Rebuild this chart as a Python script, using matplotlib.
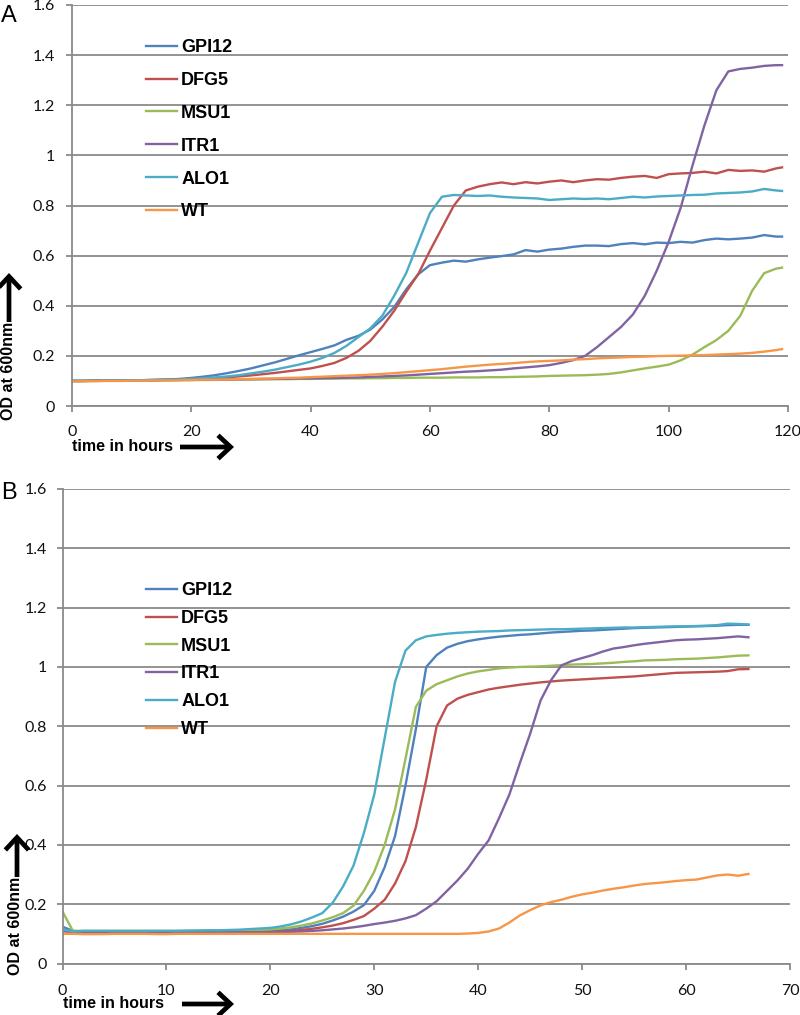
import matplotlib
matplotlib.use("Agg")
import matplotlib.pyplot as plt
from matplotlib.patches import FancyArrowPatch

# ---------------- data ----------------
series_names = ["GPI12", "DFG5", "MSU1", "ITR1", "ALO1", "WT"]
series_colors = ["#4F81BD", "#C0504D", "#9BBB59", "#8064A2", "#4BACC6", "#F79646"]

# Panel A (time in hours)
time_A = list(range(0, 120, 2)) + [119]
GPI12_A = [0.100,0.100,0.101,0.101,0.102,0.102,0.103,0.104,0.105,0.108,
           0.112,0.117,0.123,0.131,0.140,0.150,0.162,0.174,0.188,0.202,
           0.215,0.228,0.242,0.264,0.280,0.305,0.345,0.395,0.465,0.525,
           0.562,0.572,0.580,0.576,0.585,0.592,0.598,0.605,0.622,0.616,
           0.624,0.628,0.635,0.640,0.640,0.638,0.646,0.650,0.645,0.652,
           0.650,0.655,0.652,0.662,0.668,0.665,0.668,0.672,0.682,0.676,
           0.676]
DFG5_A = [0.100,0.100,0.101,0.101,0.102,0.102,0.103,0.104,0.105,0.106,
          0.108,0.110,0.112,0.115,0.118,0.122,0.127,0.132,0.138,0.144,
          0.150,0.160,0.172,0.192,0.220,0.260,0.316,0.380,0.455,0.525,
          0.620,0.710,0.800,0.860,0.875,0.885,0.892,0.885,0.893,0.888,
          0.895,0.900,0.893,0.900,0.905,0.903,0.910,0.915,0.918,0.910,
          0.925,0.928,0.930,0.935,0.928,0.942,0.938,0.940,0.935,0.948,
          0.952]
MSU1_A = [0.100,0.100,0.100,0.101,0.101,0.101,0.102,0.102,0.102,0.103,
          0.103,0.104,0.104,0.105,0.105,0.106,0.106,0.107,0.107,0.108,
          0.108,0.109,0.109,0.110,0.110,0.111,0.111,0.112,0.112,0.113,
          0.113,0.113,0.114,0.114,0.114,0.115,0.115,0.116,0.117,0.118,
          0.120,0.121,0.122,0.123,0.125,0.128,0.134,0.142,0.150,0.157,
          0.165,0.182,0.205,0.235,0.263,0.300,0.360,0.460,0.530,0.548,
          0.552]
ITR1_A = [0.100,0.100,0.101,0.101,0.102,0.102,0.103,0.103,0.104,0.104,
          0.105,0.105,0.106,0.106,0.107,0.107,0.108,0.108,0.109,0.110,
          0.110,0.111,0.112,0.113,0.114,0.116,0.118,0.120,0.122,0.125,
          0.128,0.131,0.134,0.137,0.139,0.142,0.145,0.150,0.154,0.158,
          0.163,0.172,0.183,0.200,0.235,0.275,0.315,0.365,0.440,0.540,
          0.655,0.790,0.960,1.120,1.260,1.335,1.345,1.350,1.357,1.360,
          1.360]
ALO1_A = [0.100,0.100,0.101,0.101,0.102,0.102,0.103,0.104,0.105,0.106,
          0.108,0.111,0.114,0.118,0.123,0.130,0.137,0.145,0.155,0.165,
          0.177,0.192,0.212,0.240,0.275,0.310,0.360,0.440,0.530,0.650,
          0.770,0.835,0.842,0.840,0.838,0.840,0.835,0.832,0.830,0.828,
          0.822,0.825,0.828,0.826,0.828,0.825,0.830,0.835,0.832,0.836,
          0.838,0.840,0.842,0.843,0.848,0.850,0.852,0.856,0.866,0.860,
          0.858]
WT_A = [0.098,0.099,0.099,0.100,0.100,0.101,0.101,0.102,0.102,0.103,
        0.104,0.105,0.105,0.106,0.107,0.108,0.109,0.110,0.112,0.113,
        0.115,0.117,0.119,0.121,0.123,0.125,0.128,0.131,0.135,0.139,
        0.143,0.147,0.152,0.157,0.161,0.165,0.168,0.171,0.175,0.178,
        0.180,0.182,0.185,0.187,0.190,0.192,0.194,0.196,0.197,0.199,
        0.200,0.201,0.202,0.203,0.205,0.207,0.209,0.212,0.217,0.223,
        0.227]

# Panel B (time in hours)
time_B = list(range(0, 67))
GPI12_B = [0.124,0.110,0.108,0.108,0.108,0.108,0.108,0.108,0.108,0.108,
           0.108,0.108,0.108,0.108,0.108,0.108,0.108,0.108,0.109,0.109,
           0.110,0.112,0.115,0.120,0.126,0.134,0.145,0.158,0.175,0.197,
           0.245,0.325,0.430,0.600,0.790,1.000,1.040,1.065,1.078,1.087,
           1.093,1.098,1.102,1.105,1.108,1.110,1.113,1.116,1.118,1.120,
           1.122,1.123,1.125,1.127,1.129,1.131,1.132,1.133,1.134,1.135,
           1.136,1.137,1.138,1.139,1.141,1.142,1.142]
DFG5_B = [0.110,0.105,0.105,0.105,0.105,0.105,0.105,0.105,0.105,0.105,
          0.105,0.105,0.105,0.105,0.105,0.105,0.105,0.105,0.105,0.106,
          0.107,0.108,0.110,0.113,0.117,0.122,0.128,0.136,0.147,0.160,
          0.185,0.215,0.270,0.345,0.460,0.620,0.800,0.870,0.893,0.906,
          0.915,0.924,0.930,0.935,0.940,0.944,0.948,0.951,0.954,0.956,
          0.958,0.960,0.962,0.964,0.966,0.968,0.971,0.974,0.977,0.980,
          0.981,0.982,0.983,0.984,0.986,0.992,0.993]
MSU1_B = [0.175,0.110,0.110,0.110,0.110,0.110,0.110,0.110,0.110,0.110,
          0.110,0.110,0.110,0.111,0.111,0.111,0.111,0.112,0.112,0.113,
          0.115,0.118,0.122,0.128,0.135,0.145,0.156,0.170,0.195,0.245,
          0.310,0.400,0.520,0.690,0.865,0.920,0.942,0.955,0.968,0.978,
          0.985,0.990,0.995,0.998,1.000,1.001,1.002,1.004,1.006,1.008,
          1.009,1.010,1.012,1.014,1.017,1.019,1.022,1.023,1.024,1.026,
          1.027,1.028,1.030,1.032,1.035,1.038,1.039]
ITR1_B = [0.110,0.105,0.105,0.105,0.105,0.105,0.105,0.105,0.105,0.105,
          0.105,0.105,0.105,0.105,0.105,0.105,0.105,0.105,0.105,0.105,
          0.105,0.106,0.107,0.108,0.110,0.112,0.115,0.118,0.122,0.127,
          0.133,0.138,0.144,0.152,0.163,0.185,0.210,0.245,0.280,0.320,
          0.370,0.415,0.490,0.570,0.675,0.775,0.887,0.955,1.005,1.020,
          1.030,1.040,1.052,1.062,1.067,1.073,1.078,1.082,1.086,1.090,
          1.092,1.093,1.095,1.097,1.100,1.103,1.100]
ALO1_B = [0.115,0.108,0.110,0.110,0.110,0.110,0.110,0.110,0.110,0.110,
          0.110,0.110,0.111,0.111,0.112,0.112,0.113,0.114,0.116,0.118,
          0.120,0.125,0.132,0.142,0.155,0.170,0.205,0.260,0.330,0.440,
          0.570,0.760,0.950,1.055,1.090,1.103,1.108,1.112,1.115,1.117,
          1.119,1.120,1.121,1.123,1.124,1.125,1.126,1.127,1.127,1.128,
          1.129,1.130,1.131,1.132,1.133,1.133,1.134,1.135,1.136,1.137,
          1.137,1.138,1.139,1.141,1.146,1.145,1.143]
WT_B = [0.100,0.100,0.099,0.099,0.099,0.100,0.100,0.100,0.100,0.099,
        0.099,0.100,0.100,0.100,0.100,0.100,0.100,0.100,0.100,0.100,
        0.100,0.100,0.100,0.100,0.100,0.100,0.100,0.100,0.100,0.100,
        0.100,0.100,0.100,0.100,0.100,0.100,0.100,0.100,0.100,0.101,
        0.103,0.108,0.118,0.138,0.162,0.180,0.196,0.207,0.215,0.225,
        0.233,0.239,0.246,0.252,0.257,0.263,0.268,0.271,0.274,0.278,
        0.281,0.283,0.290,0.297,0.300,0.296,0.302]

y_ticks = [0, 0.2, 0.4, 0.6, 0.8, 1.0, 1.2, 1.4, 1.6]
y_ticklabels = ["0", "0.2", "0.4", "0.6", "0.8", "1", "1.2", "1.4", "1.6"]
xticks_A = [0, 20, 40, 60, 80, 100, 120]
xticks_B = [0, 10, 20, 30, 40, 50, 60, 70]

# ---------------- drawing ----------------
W, H = 800, 1015
fig = plt.figure(figsize=(W / 100, H / 100), dpi=100)

GRID = "#8a8a8a"
TICKFONT = "Lato"
BOLD = "Liberation Sans"


def fx(px):
    return px / W


def fy(py):
    return 1 - py / H


def style_axes(ax, xmax, xticks, ytickpad, xtickpad):
    ax.set_xlim(0, xmax)
    ax.set_ylim(0, 1.6)
    ax.set_yticks(y_ticks)
    ax.set_yticklabels(y_ticklabels)
    ax.set_xticks(xticks)
    ax.set_xticklabels([str(v) for v in xticks])
    for s in ["top", "right"]:
        ax.spines[s].set_visible(False)
    for s in ["left", "bottom"]:
        ax.spines[s].set_color(GRID)
        ax.spines[s].set_linewidth(1.3)
    ax.yaxis.grid(True, color=GRID, linewidth=1.3)
    ax.set_axisbelow(True)
    ax.tick_params(axis="both", direction="out", length=4, width=1.3, color=GRID,
                   labelsize=11.5, labelcolor="#111111")
    ax.tick_params(axis="y", pad=ytickpad)
    ax.tick_params(axis="x", pad=xtickpad)
    for lab in ax.get_xticklabels() + ax.get_yticklabels():
        lab.set_family(TICKFONT)


legend_prop = {"family": BOLD, "weight": "bold", "size": 13}

# Panel A
axA = fig.add_axes([fx(72), fy(406), fx(788 - 72), (406 - 5) / H])
dataA = [GPI12_A, DFG5_A, MSU1_A, ITR1_A, ALO1_A, WT_A]
for name, col, vals in zip(series_names, series_colors, dataA):
    axA.plot(time_A, vals, color=col, lw=1.7, label=name)
style_axes(axA, 120, xticks_A, 8, 10)
axA.legend(loc="upper left", bbox_to_anchor=(fx(146), fy(39)),
           bbox_transform=fig.transFigure, frameon=False, prop=legend_prop,
           handlelength=1.7, handletextpad=0.25, labelspacing=0.88,
           borderpad=0, borderaxespad=0)

# Panel B
axB = fig.add_axes([fx(62.5), fy(963.5), fx(790 - 62.5), (963.5 - 489) / H])
dataB = [GPI12_B, DFG5_B, MSU1_B, ITR1_B, ALO1_B, WT_B]
for name, col, vals in zip(series_names, series_colors, dataB):
    axB.plot(time_B, vals, color=col, lw=1.7, label=name)
style_axes(axB, 70, xticks_B, 7, 10.5)
axB.legend(loc="upper left", bbox_to_anchor=(fx(146), fy(582)),
           bbox_transform=fig.transFigure, frameon=False, prop=legend_prop,
           handlelength=1.7, handletextpad=0.25, labelspacing=0.6,
           borderpad=0, borderaxespad=0)

# Panel letters
fig.text(fx(1), fy(5), "A", fontsize=17, family="Liberation Sans", va="top", ha="left")
fig.text(fx(1), fy(482), "B", fontsize=17, family="Liberation Sans", va="top", ha="left")

# Axis labels and arrows
lab_kw = dict(family=BOLD, weight="bold", fontsize=11.5)


def arrow(p0, p1):
    fig.patches.append(FancyArrowPatch(
        (fx(p0[0]), fy(p0[1])), (fx(p1[0]), fy(p1[1])), transform=fig.transFigure,
        arrowstyle="->,head_length=0.45,head_width=0.42", mutation_scale=20,
        lw=3.4, color="black", shrinkA=0, shrinkB=0, capstyle="butt",
        joinstyle="miter"))


# A
fig.text(fx(9), fy(371), "OD at 600nm", rotation=90, ha="center", va="center", **lab_kw)
fig.text(fx(72), fy(447), "time in hours", ha="left", va="center", **lab_kw)
arrow((9, 322), (9, 273))
arrow((180, 447), (234, 447))

# B
fig.text(fx(16), fy(926), "OD at 600nm", rotation=90, ha="center", va="center", **lab_kw)
fig.text(fx(63), fy(1003), "time in hours", ha="left", va="center", **lab_kw)
arrow((17, 877), (17, 834))
arrow((182, 1004), (234, 1004))

fig.savefig("out.png", dpi=100)
